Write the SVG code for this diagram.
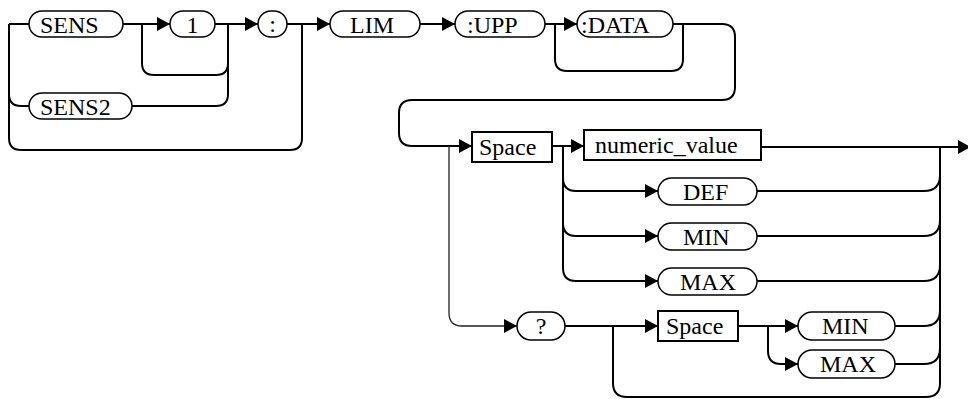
<svg xmlns="http://www.w3.org/2000/svg" width="968" height="399" viewBox="0 0 968 399">
<style>
.pill{fill:#fff;stroke:#000;stroke-width:1.5}
.box{fill:#fff;stroke:#000;stroke-width:2}
.c{fill:none;stroke:#000;stroke-width:2}
.thin{fill:none;stroke:#222;stroke-width:1.3}
</style>
<defs>
<marker id="ah" markerUnits="userSpaceOnUse" markerWidth="13" markerHeight="14" refX="13" refY="7" orient="auto">
<path d="M0 0 L13 7 L0 14 z" fill="#000"/>
</marker>
</defs>
<rect width="968" height="399" fill="#fff"/>
<g id="connectors">
<path class="c" d="M9 24 H29"/>
<path class="c" d="M9 24 V138 Q9 150 21 150 H290 Q302 150 302 138 V24"/>
<path class="c" d="M9 94 Q9 106 21 106 H29"/>
<path class="c" d="M123 24 H170" marker-end="url(#ah)"/>
<path class="c" d="M142 24 V63 Q142 75 154 75 H216 Q228 75 228 63 V24"/>
<path class="c" d="M215 24 H258" marker-end="url(#ah)"/>
<path class="c" d="M132 106 H216 Q228 106 228 94 V63"/>
<path class="c" d="M287 24 H330" marker-end="url(#ah)"/>
<path class="c" d="M420 24 H455" marker-end="url(#ah)"/>
<path class="c" d="M545 24 H577" marker-end="url(#ah)"/>
<path class="c" d="M555 24 V59 Q555 71 567 71 H671 Q683 71 683 59 V24"/>
<path class="c" d="M673 24 H722 Q735 24 735 37 V87 Q735 100 722 100 H412 Q399 100 399 113 V133 Q399 146 412 146 H472" marker-end="url(#ah)"/>
<path class="thin" d="M449 146 V313 Q449 326 462 326 H517" marker-end="url(#ah)"/>
<path class="c" d="M552 146 H584" marker-end="url(#ah)"/>
<path class="c" d="M563 146 V268 Q563 281 576 281 H658" marker-end="url(#ah)"/>
<path class="c" d="M563 178 Q563 191 576 191 H658" marker-end="url(#ah)"/>
<path class="c" d="M563 223 Q563 236 576 236 H658" marker-end="url(#ah)"/>
<path class="c" d="M761 147 H971" marker-end="url(#ah)"/>
<path class="c" d="M940 147 V383 Q940 397 926 397 H627 Q613 397 613 383 V326"/>
<path class="c" d="M757 191 H924 Q940 191 940 175"/>
<path class="c" d="M757 236 H924 Q940 236 940 220"/>
<path class="c" d="M757 281 H924 Q940 281 940 265"/>
<path class="c" d="M565 326 H658" marker-end="url(#ah)"/>
<path class="c" d="M738 326 H798" marker-end="url(#ah)"/>
<path class="c" d="M768 326 V351 Q768 364 781 364 H798" marker-end="url(#ah)"/>
<path class="c" d="M895 326 H924 Q940 326 940 310"/>
<path class="c" d="M895 364 H924 Q940 364 940 348"/>
</g>
<g font-family="'Liberation Serif', 'DejaVu Serif', 'Times New Roman', serif" font-size="24" fill="#000">
<g id="n-sens"><rect class="pill" x="29" y="11" width="94" height="26" rx="13"/><text x="40" y="33">SENS</text></g>
<g id="n-1"><rect class="pill" x="170" y="11" width="45" height="26" rx="13"/><text x="192.5" y="33" text-anchor="middle">1</text></g>
<g id="n-colon"><rect class="pill" x="258" y="11" width="29" height="26" rx="13"/><text x="272.5" y="32" text-anchor="middle">:</text></g>
<g id="n-sens2"><rect class="pill" x="29" y="93" width="103" height="26" rx="13"/><text x="40" y="115">SENS2</text></g>
<g id="n-lim"><rect class="pill" x="330" y="11" width="90" height="26" rx="13"/><text x="350" y="33">LIM</text></g>
<g id="n-upp"><rect class="pill" x="455" y="11" width="90" height="26" rx="13"/><text x="467" y="33">:UPP</text></g>
<g id="n-data"><rect class="pill" x="577" y="11" width="96" height="26" rx="13"/><text x="581" y="33">:DATA</text></g>
<g id="n-space1"><rect class="box" x="472" y="132" width="80" height="30"/><text x="479" y="155">Space</text></g>
<g id="n-numeric"><rect class="box" x="584" y="130" width="177" height="30"/><text x="595" y="153">numeric_value</text></g>
<g id="n-def"><rect class="pill" x="658" y="178" width="99" height="27" rx="13.5"/><text x="683" y="200">DEF</text></g>
<g id="n-min1"><rect class="pill" x="658" y="223" width="99" height="27" rx="13.5"/><text x="683" y="245">MIN</text></g>
<g id="n-max1"><rect class="pill" x="658" y="268" width="99" height="27" rx="13.5"/><text x="680" y="290">MAX</text></g>
<g id="n-query"><rect class="pill" x="517" y="312" width="48" height="28" rx="14"/><text x="541" y="334" text-anchor="middle">?</text></g>
<g id="n-space2"><rect class="box" x="658" y="311" width="80" height="30"/><text x="666" y="334">Space</text></g>
<g id="n-min2"><rect class="pill" x="798" y="312" width="97" height="28" rx="14"/><text x="822" y="334">MIN</text></g>
<g id="n-max2"><rect class="pill" x="798" y="350" width="97" height="28" rx="14"/><text x="820" y="372">MAX</text></g>
</g>
</svg>
